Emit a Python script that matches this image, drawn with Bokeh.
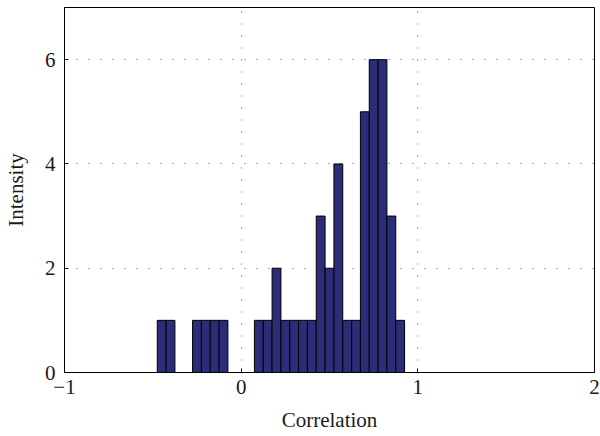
from bokeh.plotting import figure
from bokeh.models import Range1d, FixedTicker
from bokeh.embed import file_html
from bokeh.resources import INLINE

# Histogram data (bin centres, counts)
bin_centers = [-0.50, -0.45, -0.40, -0.35, -0.30, -0.25, -0.20, -0.15, -0.10, -0.05,
               0.00, 0.05, 0.10, 0.15, 0.20, 0.25, 0.30, 0.35, 0.40, 0.45,
               0.50, 0.55, 0.60, 0.65, 0.70, 0.75, 0.80, 0.85, 0.90, 0.95]
counts = [0, 1, 1, 0, 0, 1, 1, 1, 1, 0,
          0, 0, 1, 1, 2, 1, 1, 1, 1, 3,
          2, 4, 1, 1, 5, 6, 6, 3, 1, 0]
x_ticks = [-1, 0, 1, 2]
y_ticks = [0, 2, 4, 6]

bin_width = 0.05
left = [c - bin_width / 2 for c in bin_centers]
right = [c + bin_width / 2 for c in bin_centers]
bottom = [0] * len(counts)

FONT = "Liberation Serif"

p = figure(frame_width=530, frame_height=365, output_backend="svg", toolbar_location=None,
           x_range=Range1d(-1, 2), y_range=Range1d(0, 7),
           min_border_left=56, min_border_right=6, min_border_top=7, min_border_bottom=56,
           background_fill_color="white", border_fill_color="white")

p.quad(left=left, right=right, bottom=bottom, top=counts,
       fill_color="#2b2d78", line_color="black", line_width=1)

p.outline_line_color = "black"
p.outline_line_width = 1

for ax in (p.xaxis, p.yaxis):
    ax.axis_line_color = "black"
    ax.major_tick_in = 4
    ax.major_tick_out = 0
    ax.minor_tick_line_color = None
    ax.major_tick_line_color = "black"
    ax.major_label_text_font = FONT
    ax.major_label_text_font_size = "21px"
    ax.major_label_text_color = "#1a1a1a"
    ax.axis_label_text_font = FONT
    ax.axis_label_text_font_size = "21px"
    ax.axis_label_text_font_style = "normal"
    ax.axis_label_text_color = "#1a1a1a"

p.xaxis.ticker = FixedTicker(ticks=x_ticks)
p.yaxis.ticker = FixedTicker(ticks=y_ticks)
p.xaxis.major_label_overrides = {-1: "\u22121"}
p.xaxis.axis_label = "Correlation"
p.yaxis.axis_label = "Intensity"
p.xaxis.major_label_standoff = 7
p.yaxis.major_label_standoff = 9
p.xaxis.axis_label_standoff = 11
p.yaxis.axis_label_standoff = 14

for g in (p.xgrid, p.ygrid):
    g.grid_line_color = "#555555"
    g.grid_line_dash = "1 11"
    g.grid_line_width = 1
p.xgrid.ticker = FixedTicker(ticks=x_ticks)
p.ygrid.ticker = FixedTicker(ticks=y_ticks)

open("out.html", "w").write(file_html(p, INLINE))
